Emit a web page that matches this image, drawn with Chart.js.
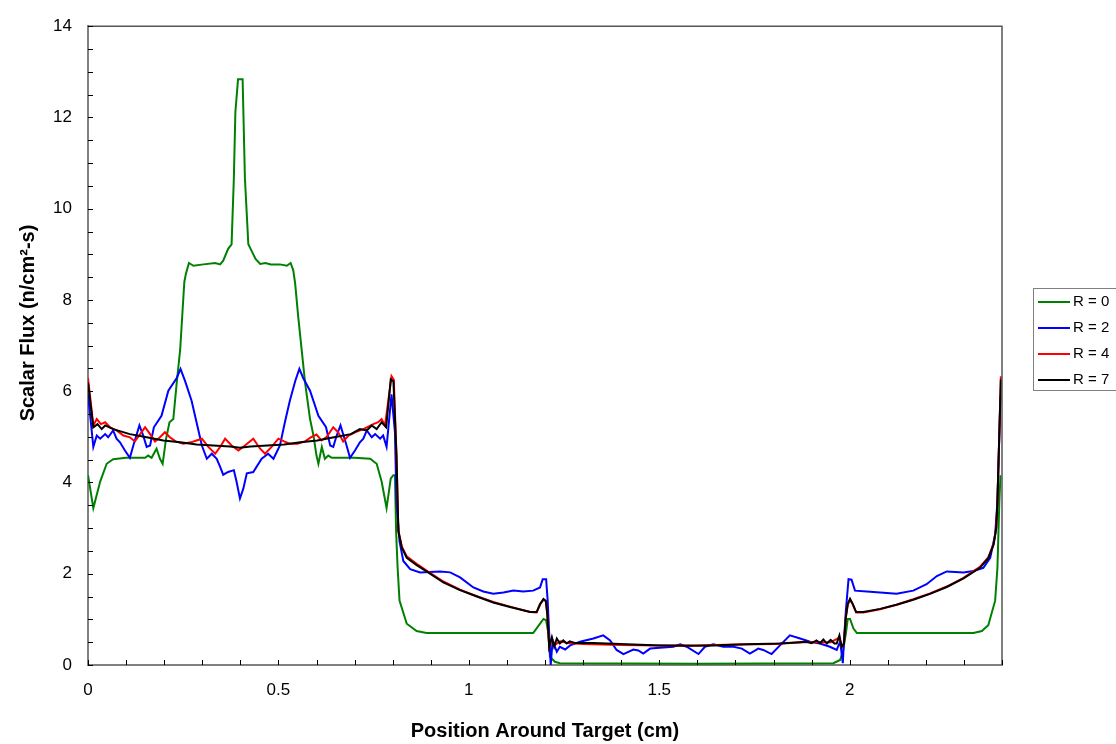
<!DOCTYPE html>
<html>
<head>
<meta charset="utf-8">
<title>Scalar Flux</title>
<script src="https://cdn.jsdelivr.net/npm/chart.js@4.4.1/dist/chart.umd.min.js"></script>
<style>
  html, body { margin: 0; padding: 0; background: #fff; }
  #flux { display: block; }
</style>
</head>
<body>
<canvas id="flux" width="1116" height="744"></canvas>
<script>
// series labels
var seriesLabels = ["R = 0", "R = 2", "R = 4", "R = 7"];

// R = 0
var posR0 = [0.000,0.014,0.032,0.049,0.066,0.100,0.150,0.158,0.167,0.180,0.189,0.196,0.205,0.214,0.224,0.233,0.242,0.250,0.253,0.257,0.265,0.277,0.303,0.334,0.347,0.355,0.368,0.377,0.383,0.387,0.394,0.406,0.408,0.412,0.421,0.427,0.440,0.452,0.466,0.480,0.504,0.522,0.532,0.539,0.544,0.552,0.561,0.570,0.583,0.592,0.600,0.605,0.614,0.622,0.631,0.640,0.700,0.741,0.758,0.771,0.784,0.795,0.802,0.806,0.809,0.813,0.818,0.837,0.863,0.889,1.000,1.169,1.187,1.196,1.203,1.209,1.213,1.226,1.239,1.600,1.957,1.975,1.983,1.990,1.995,2.001,2.010,2.019,2.200,2.325,2.347,2.364,2.382,2.388,2.393,2.396];
var fluxR0 = [4.16,3.44,4.02,4.41,4.51,4.54,4.54,4.59,4.54,4.74,4.52,4.41,4.96,5.32,5.39,6.19,6.91,8.00,8.40,8.57,8.81,8.75,8.78,8.81,8.78,8.86,9.12,9.22,10.67,12.12,12.84,12.84,12.12,10.67,9.22,9.12,8.90,8.79,8.81,8.78,8.78,8.75,8.81,8.65,8.36,7.63,6.91,6.19,5.39,5.03,4.59,4.41,4.78,4.52,4.59,4.54,4.54,4.52,4.41,4.02,3.44,4.09,4.16,4.16,2.93,2.13,1.41,0.905,0.745,0.70,0.70,0.70,0.905,1.01,0.98,0.69,0.18,0.07,0.04,0.03,0.04,0.11,0.33,0.69,1.01,1.01,0.80,0.70,0.70,0.70,0.745,0.87,1.41,2.13,3.58,4.16];

// R = 2
var posR2 = [0.000,0.014,0.023,0.032,0.045,0.053,0.066,0.075,0.084,0.097,0.110,0.119,0.135,0.145,0.154,0.163,0.173,0.193,0.211,0.233,0.243,0.255,0.272,0.285,0.299,0.312,0.325,0.338,0.347,0.355,0.368,0.383,0.390,0.399,0.408,0.417,0.434,0.456,0.473,0.487,0.504,0.517,0.530,0.544,0.555,0.565,0.583,0.605,0.625,0.636,0.644,0.653,0.663,0.679,0.688,0.701,0.714,0.723,0.732,0.745,0.754,0.767,0.775,0.784,0.797,0.806,0.810,0.818,0.828,0.846,0.872,0.924,0.951,0.977,1.012,1.038,1.064,1.091,1.117,1.143,1.169,1.187,1.194,1.203,1.207,1.211,1.215,1.220,1.231,1.239,1.253,1.266,1.292,1.327,1.353,1.371,1.388,1.406,1.432,1.445,1.458,1.476,1.502,1.537,1.555,1.572,1.603,1.620,1.642,1.668,1.695,1.717,1.738,1.760,1.773,1.795,1.817,1.843,1.870,1.896,1.922,1.948,1.966,1.975,1.982,1.985,1.990,1.997,2.005,2.014,2.045,2.080,2.123,2.167,2.202,2.229,2.255,2.299,2.325,2.351,2.369,2.382,2.388,2.396];
var fluxR2 = [5.93,4.78,5.03,4.96,5.06,4.99,5.14,4.96,4.88,4.70,4.54,4.81,5.25,5.03,4.78,4.81,5.21,5.46,6.01,6.29,6.49,6.22,5.79,5.32,4.81,4.52,4.63,4.52,4.34,4.17,4.23,4.27,4.02,3.65,3.87,4.20,4.23,4.52,4.63,4.52,4.81,5.32,5.79,6.22,6.49,6.29,6.01,5.46,5.21,4.81,4.78,5.03,5.25,4.81,4.54,4.70,4.88,4.96,5.14,4.99,5.06,4.96,5.03,4.78,5.93,5.10,3.58,2.71,2.28,2.10,2.03,2.05,2.03,1.92,1.70,1.61,1.56,1.59,1.63,1.61,1.63,1.70,1.88,1.88,1.41,0.69,0.00,0.54,0.29,0.40,0.34,0.43,0.51,0.58,0.65,0.54,0.33,0.24,0.34,0.32,0.25,0.36,0.38,0.40,0.455,0.40,0.24,0.40,0.455,0.40,0.40,0.36,0.25,0.36,0.33,0.24,0.43,0.65,0.58,0.51,0.47,0.40,0.33,0.51,0.04,0.54,1.19,1.88,1.87,1.63,1.61,1.59,1.56,1.63,1.77,1.95,2.05,2.03,2.06,2.13,2.35,2.86,3.58,5.90];

// R = 4
var posR4 = [0.000,0.014,0.023,0.034,0.045,0.058,0.075,0.093,0.110,0.123,0.137,0.150,0.163,0.176,0.189,0.202,0.215,0.230,0.250,0.270,0.285,0.299,0.316,0.334,0.347,0.360,0.377,0.395,0.412,0.434,0.452,0.465,0.482,0.500,0.515,0.530,0.550,0.570,0.585,0.600,0.613,0.627,0.644,0.657,0.670,0.684,0.701,0.723,0.749,0.762,0.771,0.780,0.797,0.803,0.810,0.815,0.824,0.837,0.863,0.889,0.933,0.977,1.021,1.064,1.108,1.161,1.178,1.187,1.196,1.202,1.206,1.211,1.218,1.226,1.240,1.260,1.300,1.400,1.500,1.600,1.700,1.800,1.880,1.950,1.973,1.979,1.985,1.990,1.995,2.001,2.008,2.017,2.036,2.080,2.123,2.167,2.211,2.255,2.299,2.342,2.364,2.378,2.385,2.388,2.397];
var fluxR4 = [6.29,5.25,5.39,5.28,5.32,5.21,5.14,5.03,4.99,4.90,5.06,5.21,5.06,4.90,4.99,5.10,4.99,4.90,4.85,4.88,4.92,4.96,4.78,4.63,4.78,4.96,4.81,4.70,4.81,4.96,4.74,4.63,4.78,4.96,4.90,4.85,4.85,4.90,4.99,5.05,4.92,5.00,5.21,5.10,4.90,5.03,5.10,5.17,5.28,5.32,5.39,5.25,6.33,6.25,4.60,2.95,2.60,2.38,2.22,2.07,1.83,1.65,1.51,1.38,1.28,1.16,1.15,1.32,1.43,1.40,1.12,0.40,0.58,0.44,0.52,0.48,0.46,0.44,0.43,0.43,0.45,0.46,0.50,0.50,0.60,0.40,0.47,1.05,1.32,1.43,1.33,1.15,1.15,1.22,1.32,1.44,1.57,1.72,1.91,2.15,2.36,2.66,3.02,3.58,6.33];

// R = 7
var posR7 = [0.000,0.014,0.025,0.036,0.045,0.066,0.110,0.154,0.198,0.242,0.285,0.329,0.373,0.399,0.427,0.471,0.515,0.558,0.602,0.646,0.690,0.714,0.732,0.745,0.758,0.771,0.783,0.795,0.802,0.810,0.815,0.824,0.837,0.863,0.889,0.933,0.977,1.021,1.064,1.108,1.161,1.178,1.187,1.196,1.202,1.206,1.211,1.218,1.224,1.231,1.239,1.248,1.257,1.265,1.280,1.327,1.415,1.502,1.581,1.642,1.730,1.817,1.887,1.900,1.913,1.922,1.931,1.940,1.950,1.960,1.966,1.973,1.979,1.985,1.990,1.995,2.001,2.008,2.017,2.036,2.080,2.123,2.167,2.211,2.255,2.299,2.342,2.364,2.378,2.385,2.388,2.397];
var fluxR7 = [6.19,5.21,5.28,5.17,5.25,5.17,5.06,4.99,4.92,4.88,4.83,4.81,4.79,4.76,4.79,4.81,4.83,4.88,4.92,4.99,5.06,5.17,5.14,5.25,5.17,5.32,5.21,6.26,6.22,4.59,2.93,2.57,2.35,2.19,2.05,1.81,1.64,1.50,1.37,1.27,1.16,1.16,1.34,1.45,1.41,1.12,0.40,0.61,0.40,0.58,0.47,0.54,0.47,0.52,0.48,0.48,0.455,0.43,0.42,0.43,0.455,0.47,0.51,0.48,0.54,0.48,0.56,0.47,0.55,0.47,0.47,0.65,0.40,0.47,1.05,1.34,1.45,1.34,1.16,1.16,1.23,1.32,1.43,1.56,1.71,1.90,2.13,2.34,2.64,3.00,3.58,6.26];

var seriesColors = ["#008000", "#0000ff", "#ff0000", "#000000"];

function toPoints(xs, ys) {
  return xs.map(function (x, i) { return { x: x, y: ys[i] }; });
}

var FONT = "Arial, 'Liberation Sans', sans-serif";

var allPos = [posR0, posR2, posR4, posR7];
var allFlux = [fluxR0, fluxR2, fluxR4, fluxR7];

var datasets = seriesLabels.map(function (lab, i) {
  return {
    label: lab,
    data: toPoints(allPos[i], allFlux[i]),
    borderColor: seriesColors[i],
    backgroundColor: seriesColors[i],
    borderWidth: 2,
    pointRadius: 0,
    tension: 0,
    fill: false,
    order: 3 - i
  };
});

// inward tick marks, frame, y title and legend box
var decorations = {
  id: "decorations",
  afterDraw: function (chart) {
    var ctx = chart.ctx;
    var a = chart.chartArea;
    var xs = chart.scales.x, ys = chart.scales.y;
    ctx.save();
    // top / right frame
    ctx.strokeStyle = "#555555";
    ctx.lineWidth = 1.5;
    ctx.beginPath();
    ctx.moveTo(a.left, a.top);
    ctx.lineTo(a.right, a.top);
    ctx.lineTo(a.right, a.bottom);
    ctx.stroke();

    ctx.strokeStyle = "#000000";
    ctx.lineWidth = 1;
    ctx.beginPath();
    xs.ticks.forEach(function (t) {
      var px = Math.round(xs.getPixelForValue(t.value)) + 0.5;
      ctx.moveTo(px, a.bottom);
      ctx.lineTo(px, a.bottom - 5);
    });
    ys.ticks.forEach(function (t) {
      var py = Math.round(ys.getPixelForValue(t.value)) + 0.5;
      ctx.moveTo(a.left, py);
      ctx.lineTo(a.left + 5, py);
    });
    ctx.stroke();

    // y axis title
    ctx.fillStyle = "#000";
    ctx.font = "bold 20px " + FONT;
    ctx.textAlign = "center";
    ctx.textBaseline = "middle";
    ctx.translate(28, 323);
    ctx.rotate(-Math.PI / 2);
    ctx.fillText("Scalar Flux (n/cm\u00b2-s)", 0, 0);
    ctx.restore();

    // legend
    ctx.save();
    ctx.strokeStyle = "#808080";
    ctx.lineWidth = 1;
    ctx.strokeRect(1033.5, 288.5, 100, 102);
    ctx.font = "15px " + FONT;
    ctx.textAlign = "left";
    ctx.textBaseline = "middle";
    seriesLabels.forEach(function (lab, i) {
      var y = 302 + i * 26;
      ctx.strokeStyle = seriesColors[i];
      ctx.lineWidth = 2;
      ctx.beginPath();
      ctx.moveTo(1038, y);
      ctx.lineTo(1070, y);
      ctx.stroke();
      ctx.fillStyle = "#000";
      ctx.fillText(lab, 1073, y);
    });
    ctx.restore();
  }
};

new Chart(document.getElementById("flux"), {
  type: "line",
  data: { datasets: datasets },
  options: {
    responsive: false,
    animation: false,
    events: [],
    layout: { padding: { left: 0, top: 20, right: 114, bottom: 0 } },
    plugins: {
      legend: { display: false },
      tooltip: { enabled: false }
    },
    scales: {
      x: {
        type: "linear",
        min: 0,
        max: 2.4,
        grid: { display: false, drawTicks: false },
        border: { display: true, color: "#808080", width: 2 },
        ticks: {
          stepSize: 0.1,
          autoSkip: false,
          maxRotation: 0,
          padding: 15,
          color: "#000",
          font: { family: FONT, size: 17 },
          callback: function (v) {
            var k = Math.round(v * 10);
            return k % 5 === 0 ? String(k / 10) : "";
          }
        },
        title: {
          display: true,
          text: "Position Around Target (cm)",
          color: "#000",
          font: { family: FONT, size: 20, weight: "bold" },
          padding: { top: 0, bottom: 1 }
        },
        afterFit: function (scale) { scale.height = 79; }
      },
      y: {
        min: 0,
        max: 14,
        grid: { display: false, drawTicks: false },
        border: { display: true, color: "#808080", width: 2 },
        ticks: {
          stepSize: 0.5,
          autoSkip: false,
          padding: 16,
          color: "#000",
          font: { family: FONT, size: 17 },
          callback: function (v) {
            var k = Math.round(v * 2);
            return k % 4 === 0 ? String(k / 2) : "";
          }
        },
        afterFit: function (scale) { scale.width = 88; }
      }
    }
  },
  plugins: [decorations]
});
</script>
</body>
</html>
